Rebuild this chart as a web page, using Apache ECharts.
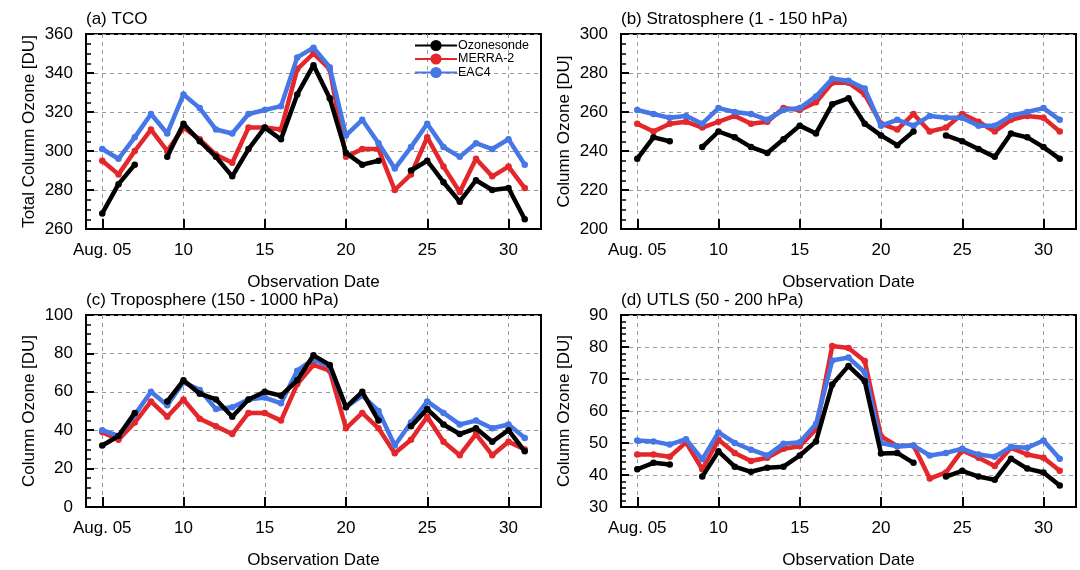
<!DOCTYPE html>
<html>
<head>
<meta charset="utf-8">
<script src="https://cdn.jsdelivr.net/npm/echarts@6/dist/echarts.min.js"></script>
<style>
  html, body { margin: 0; padding: 0; background: #fff; }
  #main { width: 1080px; height: 570px; }
</style>
</head>
<body>
<div id="main"></div>
<script>
// observation days in August
var days = [5, 6, 7, 8, 9, 10, 11, 12, 13, 14, 15, 16, 17, 18, 19, 20, 21, 22, 23, 24, 25, 26, 27, 28, 29, 30, 31];
var dayTicks = [5, 10, 15, 20, 25, 30];

// (a) TCO
var tcoSonde = [268, 283, 293, null, 297, 314, 305, 297, 287, 301, 312, 306, 329, 344, 327, 299, 293, 295, null, 290, 295, 284, 274, 285, 280, 281, 265];
var tcoMerra = [295, 288, 300, 311, 300, 312, 306, 298, 294, 312, 312, 311, 342, 350, 342, 297, 301, 301, 280, 288, 307, 292, 279, 296, 287, 292, 281];
var tcoEac4 = [301, 296, 307, 319, 309, 329, 322, 311, 309, 319, 321, 323, 348, 353, 343, 308, 316, 304, 291, 302, 314, 302, 297, 304, 301, 306, 293];

// (b) Stratosphere (1 - 150 hPa)
var stratSonde = [236, 247, 245, null, 242, 250, 247, 242, 239, 246, 253, 249, 264, 267, 254, 248, 243, 250, null, 248, 245, 241, 237, 249, 247, 242, 236];
var stratMerra = [254, 250, 254, 255, 252, 255, 258, 254, 255, 262, 261, 265, 275, 275, 269, 254, 251, 259, 250, 252, 259, 255, 250, 256, 258, 257, 250];
var stratEac4 = [261, 259, 257, 258, 254, 262, 260, 259, 256, 261, 262, 268, 277, 276, 272, 253, 256, 253, 258, 257, 257, 253, 253, 258, 260, 262, 256];

// (c) Troposphere (150 - 1000 hPa)
var tropSonde = [32, 37, 49, null, 55, 66, 59, 56, 47, 56, 60, 58, 66, 79, 74, 52, 60, 45, null, 42, 51, 43, 38, 41, 34, 40, 29];
var tropMerra = [39, 35, 44, 55, 47, 56, 46, 42, 38, 49, 49, 45, 64, 74, 71, 41, 49, 41, 28, 35, 47, 34, 27, 38, 27, 34, 30];
var tropEac4 = [40, 37, 48, 60, 53, 65, 61, 51, 52, 56, 57, 54, 71, 77, 73, 52, 58, 50, 32, 44, 55, 49, 43, 45, 41, 43, 36];

// (d) UTLS (50 - 200 hPa)
var utlsSonde = [41.8, 43.8, 43.3, null, 39.5, 47.4, 42.6, 41, 42.3, 42.6, 46.1, 50.5, 68.3, 74.1, 69.3, 46.7, 46.9, 43.8, null, 39.5, 41.3, 39.5, 38.5, 45.1, 42, 40.8, 36.7];
var utlsMerra = [46.4, 46.4, 45.7, 50.2, 41.8, 51, 46.9, 44.4, 45.4, 48.2, 49, 54.3, 80.3, 79.7, 75.6, 52.1, 49, 49.2, 38.9, 40.8, 47.7, 45.4, 42.8, 48.5, 46.4, 45.4, 41.3];
var utlsEac4 = [50.8, 50.5, 49.5, 51.2, 44.9, 53.3, 50, 47.9, 46.1, 49.8, 50.2, 55.9, 75.8, 76.7, 72.1, 50, 49, 49.2, 46.1, 46.9, 48.2, 46.4, 45.7, 48.8, 48.5, 50.8, 45.1];

var panels = [
  { title: '(a) TCO', yName: 'Total Column Ozone [DU]', min: 260, max: 360, step: 20, minor: 4,
    sonde: tcoSonde, merra: tcoMerra, eac4: tcoEac4, left: 86, top: 34 },
  { title: '(b) Stratosphere (1 - 150 hPa)', yName: 'Column Ozone [DU]', min: 200, max: 300, step: 20, minor: 4,
    sonde: stratSonde, merra: stratMerra, eac4: stratEac4, left: 621, top: 34 },
  { title: '(c) Troposphere (150 - 1000 hPa)', yName: 'Column Ozone [DU]', min: 0, max: 100, step: 20, minor: 4,
    sonde: tropSonde, merra: tropMerra, eac4: tropEac4, left: 86, top: 315 },
  { title: '(d) UTLS (50 - 200 hPa)', yName: 'Column Ozone [DU]', min: 30, max: 90, step: 10, minor: 5,
    sonde: utlsSonde, merra: utlsMerra, eac4: utlsEac4, left: 621, top: 315 }
];

var FONT = 'Liberation Sans';
var FS = 17;
var colors = { sonde: '#000000', merra: '#e3272b', eac4: '#4677e6' };

function pairs(vals) {
  var out = [];
  for (var i = 0; i < days.length; i++) {
    out.push([days[i], vals[i]]);
  }
  return out;
}

function lineSeries(name, vals, color, idx, z) {
  return {
    name: name,
    type: 'line',
    xAxisIndex: idx,
    yAxisIndex: idx,
    data: pairs(vals),
    connectNulls: false,
    symbol: 'circle',
    symbolSize: 6.5,
    z: z,
    itemStyle: { color: color },
    lineStyle: { color: color, width: 4.5 }
  };
}

var grids = [], xAxes = [], yAxes = [], titles = [], series = [];

panels.forEach(function (p, i) {
  grids.push({
    left: p.left, top: p.top, width: 455, height: 195,
    show: true, borderColor: '#000', borderWidth: 2, backgroundColor: 'transparent'
  });
  titles.push({
    text: p.title, left: p.left - 5, top: p.top - 28,
    textStyle: { fontFamily: FONT, fontSize: FS, fontWeight: 'normal', color: '#000' }
  });
  xAxes.push({
    type: 'value', gridIndex: i, min: 4, max: 32,
    name: 'Observation Date', nameLocation: 'middle', nameGap: 45,
    nameTextStyle: { fontFamily: FONT, fontSize: FS, color: '#000' },
    axisLine: { lineStyle: { color: '#000', width: 2 } },
    axisTick: { inside: true, length: 10, customValues: dayTicks, lineStyle: { color: '#000', width: 2 } },
    axisLabel: {
      customValues: dayTicks, margin: 13, fontFamily: FONT, fontSize: FS, color: '#000',
      formatter: function (v) { return v === 5 ? 'Aug. 05' : String(v); }
    },
    splitLine: { show: true, lineStyle: { color: '#999', type: [4, 4], width: 1 } }
  });
  yAxes.push({
    type: 'value', gridIndex: i, min: p.min, max: p.max, interval: p.step,
    name: p.yName, nameLocation: 'middle', nameGap: 48,
    nameTextStyle: { fontFamily: FONT, fontSize: FS, color: '#000' },
    axisLine: { show: true, lineStyle: { color: '#000', width: 2 } },
    axisTick: { show: true, inside: true, length: 8, lineStyle: { color: '#000', width: 2 } },
    minorTick: { show: true, splitNumber: p.minor, length: 5, lineStyle: { color: '#000', width: 1.5 } },
    axisLabel: { margin: 13, fontFamily: FONT, fontSize: FS, color: '#000' },
    splitLine: { show: true, lineStyle: { color: '#999', type: [4, 4], width: 1 } }
  });
  series.push(lineSeries('MERRA-2', p.merra, colors.merra, i, 2));
  series.push(lineSeries('EAC4', p.eac4, colors.eac4, i, 3));
  series.push(lineSeries('Ozonesonde', p.sonde, colors.sonde, i, 4));
});

var chart = echarts.init(document.getElementById('main'), null, { renderer: 'canvas' });
chart.setOption({
  animation: false,
  backgroundColor: '#fff',
  title: titles,
  legend: {
    data: ['Ozonesonde', 'MERRA-2', 'EAC4'],
    orient: 'vertical',
    left: 409, top: 34,
    itemWidth: 42, itemHeight: 14, itemGap: 0.5,
    textStyle: { fontFamily: FONT, fontSize: 12.5, color: '#000', padding: [0, 0, 0, -4] }
  },
  grid: grids,
  xAxis: xAxes,
  yAxis: yAxes,
  series: series
});
</script>
</body>
</html>
